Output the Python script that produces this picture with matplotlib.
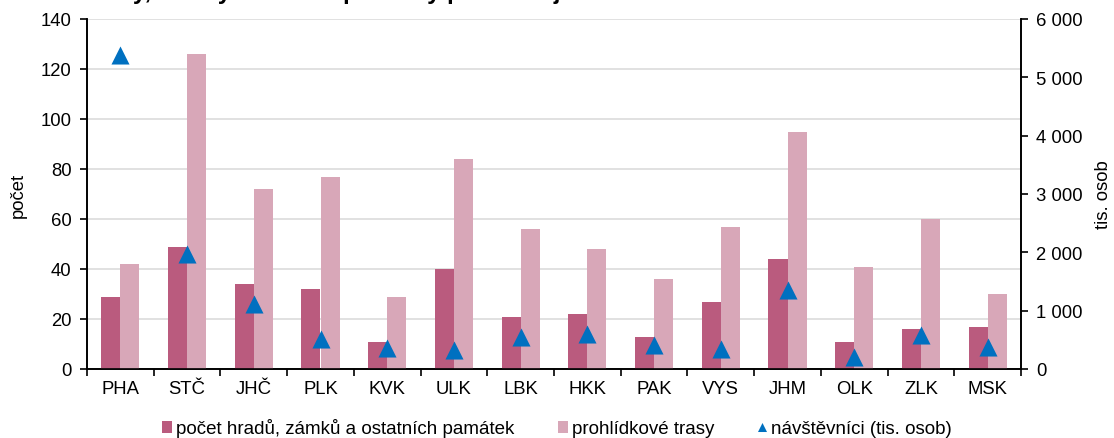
import matplotlib
matplotlib.use("Agg")
import matplotlib.pyplot as plt
import numpy as np
from matplotlib.lines import Line2D
from matplotlib.patches import Patch
from matplotlib.ticker import FuncFormatter, MultipleLocator

plt.rcParams['font.family'] = ['Liberation Sans', 'DejaVu Sans']

regions = ["PHA", "STČ", "JHČ", "PLK", "KVK", "ULK", "LBK", "HKK", "PAK", "VYS", "JHM", "OLK", "ZLK", "MSK"]
monuments = [29, 49, 34, 32, 11, 40, 21, 22, 13, 27, 44, 11, 16, 17]
tours = [42, 126, 72, 77, 29, 84, 56, 48, 36, 57, 95, 41, 60, 30]
visitors = [5390, 1980, 1120, 520, 360, 330, 550, 600, 420, 335, 1360, 210, 590, 380]

title = "Hrady, zámky a ostatní památky podle krajů"
lab_mon = "počet hradů, zámků a ostatních památek"
lab_tour = "prohlídkové trasy"
lab_vis = "návštěvníci (tis. osob)"

c_dark = "#BA5B7E"
c_light = "#D8A7B8"
c_tri = "#0070C0"

W, H = 1114, 439
fig = plt.figure(figsize=(W / 100, H / 100), dpi=100)
ax = fig.add_axes([87 / W, 1 - 370 / H, (1021 - 87) / W, 350 / H])
ax2 = ax.twinx()

x = np.arange(len(regions))
bw = 0.285
ax.bar(x - bw / 2, monuments, width=bw, color=c_dark, zorder=3)
ax.bar(x + bw / 2, tours, width=bw, color=c_light, zorder=3)

tri = [(0, 1), (-1, -1), (1, -1)]
ax2.plot(x, visitors, linestyle='none', marker=tri, markersize=13,
         color=c_tri, markeredgewidth=0, zorder=5)

ax.set_xlim(-0.5, len(regions) - 0.5)
ax.set_ylim(0, 140)
ax.yaxis.set_major_locator(MultipleLocator(20))
ax2.set_ylim(0, 6000)
ax2.yaxis.set_major_locator(MultipleLocator(1000))
ax2.yaxis.set_major_formatter(FuncFormatter(lambda v, p: f"{int(v):,}".replace(",", " ")))

ax.grid(axis='y', color='#D9D9D9', linewidth=1.1, zorder=0)
ax.set_axisbelow(True)

ax.set_xticks(np.arange(len(regions) + 1) - 0.5, minor=False)
ax.set_xticklabels([])
ax.set_xticks(x, minor=True)
ax.set_xticklabels(regions, minor=True)
ax.tick_params(axis='x', which='major', length=5, width=1.2, direction='out', color='black')
ax.tick_params(axis='x', which='minor', length=0, pad=8, labelsize=13.3)
ax.tick_params(axis='y', length=5, width=1.2, direction='out', labelsize=13.3, pad=6)
ax2.tick_params(axis='y', length=5, width=1.2, direction='out', labelsize=13.3, pad=6)

for a in (ax, ax2):
    a.spines['top'].set_visible(False)
    for s in ('left', 'right', 'bottom'):
        a.spines[s].set_color('black')
        a.spines[s].set_linewidth(1.2)

ax.set_ylabel("počet", fontsize=13.3, labelpad=10)
ax2.set_ylabel("tis. osob", fontsize=13.3, labelpad=9, rotation=90)

fig.text(78 / W, 1 + 0.5 / H, title, fontsize=17.3, fontweight='bold', va='baseline', ha='left')

handles = [
    Patch(facecolor=c_dark, edgecolor='none'),
    Patch(facecolor=c_light, edgecolor='none'),
    Line2D([], [], linestyle='none', marker=tri, markersize=6.5, color=c_tri, markeredgewidth=0),
]
fig.legend(handles, [lab_mon, lab_tour, lab_vis], loc='center', ncol=3,
           bbox_to_anchor=(557 / W, 1 - 429 / H), frameon=False, fontsize=13.5,
           handlelength=0.55, handleheight=0.55, handletextpad=0.2, columnspacing=2.3,
           borderaxespad=0, borderpad=0)

fig.savefig("out.png", dpi=100)
